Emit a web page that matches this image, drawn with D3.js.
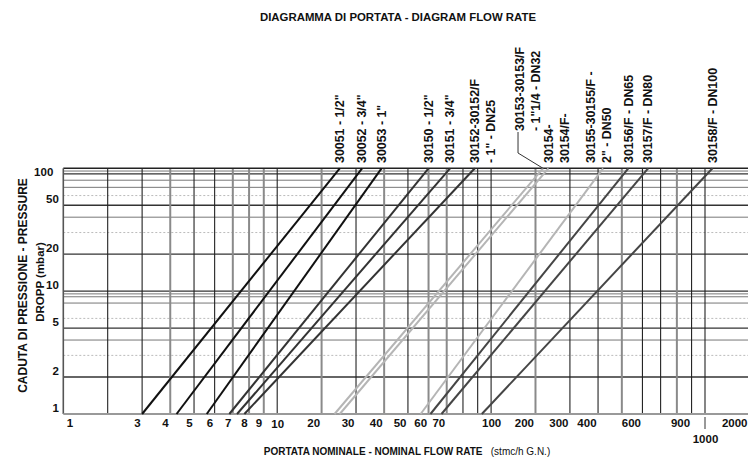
<!DOCTYPE html>
<html>
<head>
<meta charset="utf-8">
<script src="https://cdn.jsdelivr.net/npm/d3@7"></script>
<style>
  html, body { margin: 0; padding: 0; background: #fff; }
  svg { display: block; font-family: "Liberation Sans", Arial, sans-serif; font-weight: bold; }
</style>
</head>
<body>
<svg id="chart"></svg>
<script>
// flow rate (stmc/h G.N.) of each valve at 1 mbar and at 100 mbar pressure drop
const codes = ['30051', '30052', '30053', '30150', '30151', '30152',
  '30153', '30154', '30155', '30156', '30157', '30158'];
const flowAt1 = [3, 4.25, 5.6, 6.8, 7.25, 7.7, 23.5, 25, 56, 61, 67, 93];
const flowAt100 = [25, 32, 39, 60, 72, 88, 220, 235, 420, 530, 630, 1150];
const labelLines = [
  ['30051 - 1/2"'],
  ['30052 - 3/4"'],
  ['30053 - 1"'],
  ['30150 - 1/2"'],
  ['30151 - 3/4"'],
  ['30152-30152/F', '- 1" - DN25'],
  ['30153-30153/F', '- 1"1/4 - DN32'],
  ['30154-', '30154/F-'],
  ['30155-30155/F -', '2" - DN50'],
  ['30156/F - DN65'],
  ['30157/F - DN80'],
  ['30158/F - DN100'],
];

// grid and tick values
const xGrid = [2, 3, 4, 5, 6, 7, 8, 9, 10, 20, 30, 40, 50, 60, 70, 80, 90,
  100, 200, 300, 400, 500, 600, 700, 800, 900, 1000];
const xTicks = [1, 3, 4, 5, 6, 7, 8, 9, 10, 20, 30, 40, 50, 60, 70,
  100, 200, 300, 400, 600, 900, 1000, 2000];
const yGrid = [2, 3, 4, 5, 6, 8, 9, 9.5, 10, 20, 30, 40, 50, 60, 70, 80, 90, 95];
const yTicks = [1, 2, 5, 10, 20, 50, 100];

const W = 748, H = 464;
const plotLeft = 63.3, plotTop = 168.3, plotBottom = 414;

const svg = d3.select('#chart').attr('width', W).attr('height', H);

// the printed log paper is not a pure log: inside each decade the
// lines sit like log(m + 2), so decade + shifted-log mantissa
const decade = d3.scaleLinear().domain([0, 3]).range([plotLeft, 705]);
const mantissa = d3.scaleLog().domain([3, 12]).range([0, 1]);
const paper = v => {
  const k = Math.floor(Math.log10(v) + 1e-9);
  return k + mantissa(v / Math.pow(10, k) + 2);
};
const x = v => decade(paper(v));
const y = d3.scaleLog().domain([1, 100]).range([plotBottom, plotTop]);

const lineColor = d3.scaleOrdinal().domain(codes).range([
  '#111', '#111', '#111', '#333', '#333', '#333',
  '#b5b5b5', '#b5b5b5', '#b5b5b5', '#454545', '#454545', '#454545',
]);

// horizontal grid
const darkY = new Set([2, 5, 10, 20, 50, 90]);
const dottedY = new Set([3, 6, 30, 60]);
svg.append('g').selectAll('line').data(yGrid).enter().append('line')
  .attr('x1', plotLeft).attr('x2', W)
  .attr('y1', d => y(d)).attr('y2', d => y(d))
  .attr('stroke', d => dottedY.has(d) ? '#bbb' : darkY.has(d) ? '#333' : '#777')
  .attr('stroke-width', d => darkY.has(d) ? 1.4 : 1)
  .attr('stroke-dasharray', d => dottedY.has(d) ? '2,2' : null);

// vertical grid
const grayX = new Set([4, 7, 8, 9, 20, 40, 60, 70, 200, 500, 800]);
svg.append('g').selectAll('line').data(xGrid).enter().append('line')
  .attr('x1', d => x(d)).attr('x2', d => x(d))
  .attr('y1', plotTop).attr('y2', plotBottom)
  .attr('stroke', d => grayX.has(d) ? '#8a8a8a' : '#222')
  .attr('stroke-width', d => grayX.has(d) ? 2 : 1.1);

// frame
svg.append('line').attr('x1', plotLeft).attr('x2', W).attr('y1', plotTop).attr('y2', plotTop)
  .attr('stroke', '#222').attr('stroke-width', 1.4);
svg.append('line').attr('x1', plotLeft).attr('x2', plotLeft).attr('y1', plotTop).attr('y2', plotBottom)
  .attr('stroke', '#555').attr('stroke-width', 1.6);
svg.append('line').attr('x1', plotLeft).attr('x2', W).attr('y1', plotBottom).attr('y2', plotBottom)
  .attr('stroke', '#999').attr('stroke-width', 2);

// flow lines
const line = d3.line().x(d => x(d[0])).y(d => y(d[1]));
svg.append('g').selectAll('path').data(codes).enter().append('path')
  .attr('d', (d, i) => line([[flowAt1[i], 1], [flowAt100[i], 100]]))
  .attr('fill', 'none')
  .attr('stroke', d => lineColor(d))
  .attr('stroke-width', 2);

// y axis
const yAxis = svg.append('g')
  .attr('transform', `translate(${plotLeft},0)`)
  .call(d3.axisLeft(y).tickValues(yTicks).tickFormat(d3.format('d')).tickSize(0).tickPadding(4.5));
yAxis.select('.domain').remove();
yAxis.selectAll('text')
  .attr('font-family', 'Liberation Sans, Arial, sans-serif')
  .attr('font-weight', 'bold').attr('font-size', 11.5).attr('fill', '#111')
  .attr('x', d => d === 100 ? -10 : -4.5)
  .attr('dy', d => d === 100 ? '0.65em' : '-0.25em');

// x axis, drawn on the paper scale
const xAxis = svg.append('g')
  .attr('transform', `translate(0,${plotBottom})`)
  .call(d3.axisBottom(decade)
    .tickValues(xTicks.map(paper))
    .tickFormat((d, i) => xTicks[i])
    .tickSize(0).tickPadding(4));
xAxis.select('.domain').remove();
xAxis.selectAll('text')
  .attr('font-family', 'Liberation Sans, Arial, sans-serif')
  .attr('font-weight', 'bold').attr('font-size', 11.5).attr('fill', '#111')
  .attr('text-anchor', (d, i) => {
    const v = xTicks[i];
    if (v === 1) return 'start';
    if (v === 10 || v === 100 || v === 1000) return 'middle';
    return 'end';
  })
  .attr('x', (d, i) => {
    const v = xTicks[i];
    if (v === 1) return 3;
    if (v === 10 || v === 100 || v === 1000) return 0;
    return Math.min(-2, W - 1 - decade(d));
  })
  .attr('dy', (d, i) => xTicks[i] === 1000 ? '2.2em' : xTicks[i] === 10 ? '0.9em' : '0.75em');
// little leader to the 1000 label
svg.append('line')
  .attr('x1', x(1000)).attr('x2', x(1000))
  .attr('y1', plotBottom + 3).attr('y2', plotBottom + 15)
  .attr('stroke', '#333').attr('stroke-width', 1);

// series labels above the plot
const labels = svg.append('g').attr('font-size', 12.4).attr('fill', '#111');
const colGap = 16;
const leaderCodes = new Set(['30153']);
// a label with a leader sits to the left of its line and ends higher up
const cols = codes.map((c, i) => labelLines[i].map((t, j) =>
  x(flowAt100[i]) + j * colGap + (leaderCodes.has(c) ? -23 : 0)));
// keep two-column labels clear of the next label
for (let i = 0; i < cols.length - 1; i++) {
  if (leaderCodes.has(codes[i]) || cols[i].length < 2) continue;
  const last = cols[i][cols[i].length - 1];
  const limit = cols[i + 1][0] - 22;
  if (last > limit) cols[i] = cols[i].map(c => c - (last - limit));
}
codes.forEach((c, i) => {
  const lead = leaderCodes.has(c);
  const base = lead ? 131 : 163;
  labelLines[i].forEach((t, j) => {
    labels.append('text')
      .attr('transform', `translate(${cols[i][j]},${base}) rotate(-90)`)
      .attr('dy', '0.35em')
      .text(t);
  });
  if (lead) {
    const lx = cols[i][0] - 2;
    svg.append('path')
      .attr('d', d3.line()([[lx, base + 1], [lx, 153], [x(flowAt100[i]), y(100)]]))
      .attr('fill', 'none').attr('stroke', '#333').attr('stroke-width', 1);
  }
});

// titles
svg.append('text')
  .attr('x', 398).attr('y', 21).attr('text-anchor', 'middle')
  .attr('font-size', 11.4).attr('fill', '#111')
  .text('DIAGRAMMA DI PORTATA - DIAGRAM FLOW RATE');

svg.append('text')
  .attr('transform', 'translate(22.5,285.5) rotate(-90)')
  .attr('text-anchor', 'middle').attr('dy', '0.35em')
  .attr('font-size', 12).attr('fill', '#111')
  .text('CADUTA DI PRESSIONE - PRESSURE');
svg.append('text')
  .attr('transform', 'translate(40,282) rotate(-90)')
  .attr('text-anchor', 'middle').attr('dy', '0.35em')
  .attr('font-size', 11.5).attr('fill', '#111')
  .text('DROPP (mbar)');

const xt = svg.append('text')
  .attr('x', 407).attr('y', 455).attr('text-anchor', 'middle')
  .attr('font-size', 10).attr('fill', '#111')
  .style('white-space', 'pre');
xt.append('tspan').text('PORTATA NOMINALE - NOMINAL FLOW RATE   ');
xt.append('tspan').attr('font-weight', 'normal').text('(stmc/h G.N.)');
</script>
</body>
</html>
